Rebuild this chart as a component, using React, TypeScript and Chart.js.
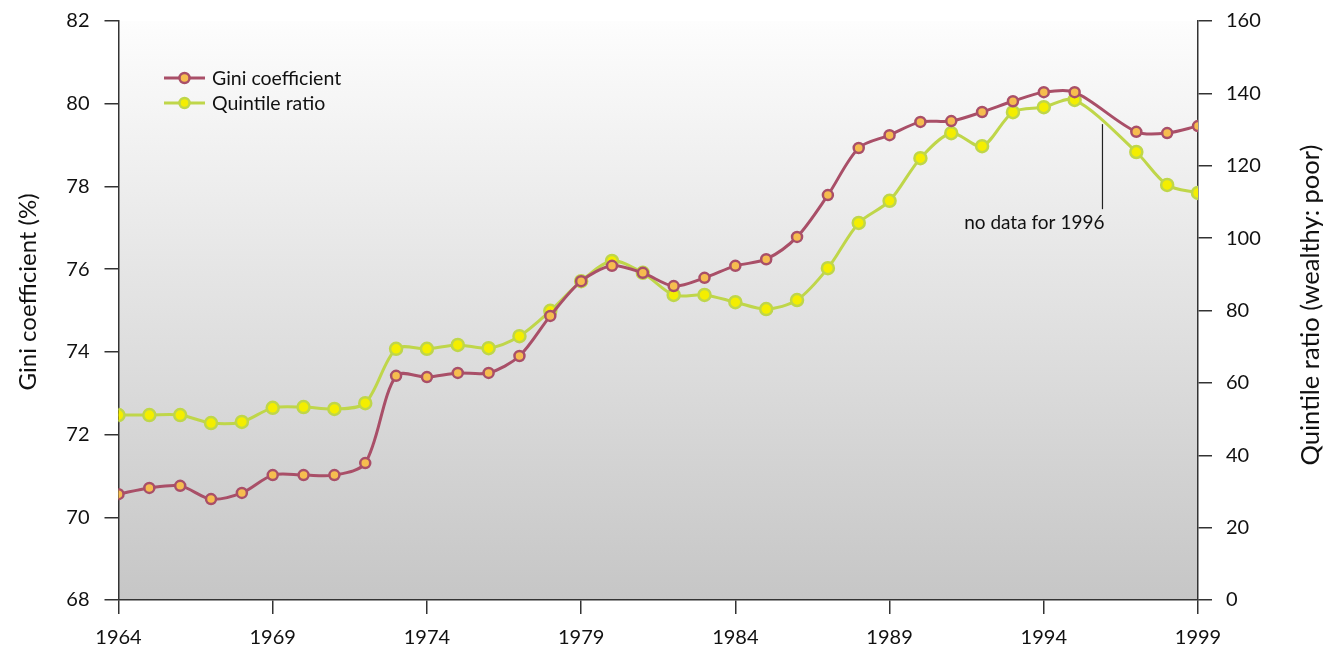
import React, { useEffect, useRef } from "react";
import { Chart, registerables } from "chart.js";

Chart.register(...registerables);

const years = [1964, 1965, 1966, 1967, 1968, 1969, 1970, 1971, 1972, 1973, 1974, 1975, 1976, 1977, 1978, 1979, 1980, 1981, 1982, 1983, 1984, 1985, 1986, 1987, 1988, 1989, 1990, 1991, 1992, 1993, 1994, 1995, 1997, 1998, 1999];
const gini = [70.56, 70.71, 70.76, 70.44, 70.59, 71.02, 71.02, 71.02, 71.31, 73.42, 73.39, 73.49, 73.49, 73.9, 74.87, 75.71, 76.08, 75.91, 75.59, 75.79, 76.08, 76.24, 76.78, 77.79, 78.93, 79.24, 79.56, 79.58, 79.8, 80.06, 80.28, 80.28, 79.32, 79.29, 79.46];
const quintile = [51.1, 51.1, 51.1, 48.9, 49.2, 53.1, 53.3, 52.8, 54.4, 69.4, 69.4, 70.5, 69.6, 72.9, 79.9, 88.1, 93.7, 90.4, 84.3, 84.3, 82.3, 80.4, 82.9, 91.7, 104.2, 110.3, 122.1, 129.0, 125.4, 134.8, 136.2, 138.2, 123.8, 114.7, 112.5];
const seriesNames = ["Gini coefficient", "Quintile ratio"];
const leftTitle = "Gini coefficient (%)";
const rightTitle = "Quintile ratio (wealthy: poor)";
const noteText = "no data for 1996";
const noteYear = 1996;

const FONT = "Lato, 'Open Sans', sans-serif";
const AXIS = "#333333";
const GINI_LINE = "#a94f68";
const GINI_FILL = "#f6bd4f";
const Q_LINE = "#bfd64a";
const Q_FILL = "#f4ee00";

const bgPlugin = {
  id: "bgGradient",
  beforeDraw(chart: any) {
    const { ctx, chartArea } = chart;
    if (!chartArea) return;
    const g = ctx.createLinearGradient(0, chartArea.top, 0, chartArea.bottom);
    g.addColorStop(0, "#fdfdfd");
    g.addColorStop(1, "#c6c6c6");
    ctx.save();
    ctx.fillStyle = g;
    ctx.fillRect(chartArea.left, chartArea.top, chartArea.right - chartArea.left, chartArea.bottom - chartArea.top);
    ctx.restore();
  },
};

const notePlugin = {
  id: "note",
  afterDatasetsDraw(chart: any) {
    const { ctx } = chart;
    const x = chart.scales.x.getPixelForValue(noteYear) - 3;
    const yq = chart.scales.yq;
    ctx.save();
    ctx.strokeStyle = "#222";
    ctx.lineWidth = 1.2;
    ctx.beginPath();
    ctx.moveTo(x, yq.getPixelForValue(131.5));
    ctx.lineTo(x, yq.getPixelForValue(108));
    ctx.stroke();
    ctx.fillStyle = "#111";
    ctx.font = `19px ${FONT}`;
    ctx.textAlign = "right";
    ctx.textBaseline = "middle";
    ctx.fillText(noteText, x + 2, yq.getPixelForValue(104.2));
    ctx.restore();
  },
};

const titlesPlugin = {
  id: "axisTitles",
  afterDraw(chart: any) {
    const { ctx } = chart;
    const yg = chart.scales.yg;
    const yq = chart.scales.yq;
    const draw = (text: string, x: number, y: number, size: number) => {
      ctx.save();
      ctx.translate(x, y);
      ctx.rotate(-Math.PI / 2);
      ctx.fillStyle = "#111";
      ctx.font = `${size}px ${FONT}`;
      ctx.textAlign = "center";
      ctx.textBaseline = "middle";
      ctx.fillText(text, 0, 0);
      ctx.restore();
    };
    draw(leftTitle, yg.left + 28, yg.getPixelForValue(75.45), 24);
    draw(rightTitle, yq.right - 22, yq.getPixelForValue(81.5), 25.5);
  },
};

const legendPlugin = {
  id: "customLegend",
  afterDraw(chart: any) {
    const { ctx } = chart;
    const items = [
      { label: seriesNames[0], line: GINI_LINE, fill: GINI_FILL, r: 5 },
      { label: seriesNames[1], line: Q_LINE, fill: Q_FILL, r: 5 },
    ];
    ctx.save();
    items.forEach((it, i) => {
      const y = 78 + i * 25;
      ctx.strokeStyle = it.line;
      ctx.lineWidth = 3;
      ctx.beginPath();
      ctx.moveTo(164, y);
      ctx.lineTo(205, y);
      ctx.stroke();
      ctx.beginPath();
      ctx.arc(184.5, y, it.r, 0, Math.PI * 2);
      ctx.fillStyle = it.fill;
      ctx.fill();
      ctx.lineWidth = 2.5;
      ctx.stroke();
      ctx.fillStyle = "#111";
      ctx.font = `19.5px ${FONT}`;
      ctx.textAlign = "left";
      ctx.textBaseline = "middle";
      ctx.fillText(it.label, 212, y + 1);
    });
    ctx.restore();
  },
};

export default function App() {
  const ref = useRef<HTMLCanvasElement | null>(null);
  useEffect(() => {
    if (!ref.current) return;
    const chart = new Chart(ref.current, {
      type: "line",
      data: {
        datasets: [
          {
            label: seriesNames[0],
            data: years.map((x, i) => ({ x, y: gini[i] })),
            yAxisID: "yg",
            borderColor: GINI_LINE,
            backgroundColor: GINI_FILL,
            pointBackgroundColor: GINI_FILL,
            pointBorderColor: GINI_LINE,
            pointRadius: 5,
            pointBorderWidth: 2.5,
            borderWidth: 3,
            tension: 0.3,
          },
          {
            label: seriesNames[1],
            data: years.map((x, i) => ({ x, y: quintile[i] })),
            yAxisID: "yq",
            borderColor: Q_LINE,
            backgroundColor: Q_FILL,
            pointBackgroundColor: Q_FILL,
            pointBorderColor: Q_LINE,
            pointRadius: 6,
            pointBorderWidth: 2.5,
            borderWidth: 3,
            tension: 0.3,
          },
        ],
      },
      options: {
        animation: false,
        responsive: true,
        maintainAspectRatio: false,
        layout: { padding: { top: 21, left: 0, right: 0, bottom: 0 } },
        plugins: { legend: { display: false }, tooltip: { enabled: false } },
        scales: {
          x: {
            type: "linear",
            min: 1964,
            max: 1999,
            afterFit: (s: any) => { s.height = 46; s.paddingLeft = 0; s.paddingRight = 0; },
            ticks: { stepSize: 5, color: "#111", font: { family: FONT, size: 20 }, padding: 12, callback: (v: any) => String(v) },
            grid: { drawOnChartArea: false, drawTicks: true, tickLength: 14, color: AXIS, lineWidth: 1.5 },
            border: { display: true, color: AXIS, width: 1.5 },
          },
          yg: {
            type: "linear",
            position: "left",
            min: 68,
            max: 82,
            afterFit: (s: any) => { s.width = 118.5; s.paddingTop = 0; s.paddingBottom = 0; },
            ticks: { stepSize: 2, color: "#111", font: { family: FONT, size: 20 }, padding: 15 },
            grid: { drawOnChartArea: false, drawTicks: true, tickLength: 14, color: AXIS, lineWidth: 1.5 },
            border: { display: true, color: AXIS, width: 1.5 },
          },
          yq: {
            type: "linear",
            position: "right",
            min: 0,
            max: 160,
            afterFit: (s: any) => { s.width = 135; s.paddingTop = 0; s.paddingBottom = 0; },
            ticks: { stepSize: 20, color: "#111", font: { family: FONT, size: 20 }, padding: 14 },
            grid: { drawOnChartArea: false, drawTicks: true, tickLength: 14, color: AXIS, lineWidth: 1.5 },
            border: { display: true, color: AXIS, width: 1.5 },
          },
        },
      },
      plugins: [bgPlugin, notePlugin, legendPlugin, titlesPlugin],
    } as any);
    return () => chart.destroy();
  }, []);
  return (
    <div style={{ position: "absolute", left: 0, top: 0, width: 1333, height: 646 }}>
      <canvas ref={ref} />
    </div>
  );
}
